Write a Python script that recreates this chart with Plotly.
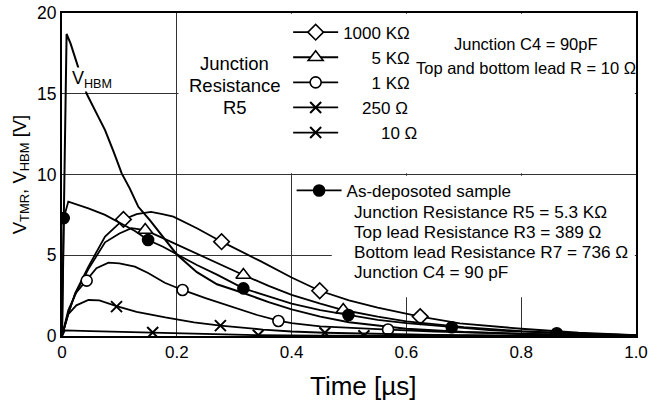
import plotly.graph_objects as go

# ---------------- data ----------------
hbm_t = [0, 0.004, 0.008, 0.015, 0.028, 0.043, 0.06, 0.075, 0.09, 0.104, 0.118, 0.133,
         0.153, 0.176, 0.2, 0.235, 0.27, 0.316, 0.36, 0.4, 0.45, 0.5, 0.6, 0.7, 0.8, 0.9, 1.0]
hbm_v = [0, 10, 18.7, 18.1, 16.7, 15.0, 13.8, 12.75, 11.4, 10.07, 9.14, 8.0,
         7.18, 6.15, 5.05, 3.95, 3.2, 2.66, 2.1, 1.65, 1.2, 0.85, 0.45, 0.25, 0.13, 0.07, 0.04]

r1000_t = [0, 0.01, 0.023, 0.046, 0.075, 0.107, 0.13, 0.155, 0.175, 0.194, 0.235, 0.278,
           0.345, 0.4, 0.449, 0.5, 0.55, 0.6, 0.624, 0.693, 0.8, 0.9, 1.0]
r1000_v = [0, 1.3, 2.65, 4.3, 6.15, 7.22, 7.55, 7.68, 7.55, 7.39, 6.67, 5.84,
           4.65, 3.62, 2.8, 2.2, 1.75, 1.38, 1.2, 0.78, 0.45, 0.2, 0.05]
r1000_mt = [0.107, 0.278, 0.449, 0.624]
r1000_mv = [7.22, 5.84, 2.8, 1.2]

r5k_t = [0, 0.01, 0.023, 0.046, 0.075, 0.1, 0.121, 0.145, 0.17, 0.2, 0.235, 0.27,
         0.316, 0.36, 0.4, 0.45, 0.49, 0.55, 0.6, 0.7, 0.8, 0.9, 1.0]
r5k_v = [0, 1.3, 2.6, 4.15, 5.8, 6.35, 6.68, 6.56, 6.15, 5.66, 5.1, 4.52,
         3.78, 3.1, 2.55, 2.0, 1.61, 1.2, 0.9, 0.55, 0.3, 0.15, 0.05]
r5k_mt = [0.145, 0.316, 0.49]
r5k_mv = [6.56, 3.78, 1.61]

asdep_t = [0, 0.003, 0.011, 0.046, 0.075, 0.104, 0.127, 0.15, 0.176, 0.2, 0.235, 0.27,
           0.316, 0.36, 0.4, 0.45, 0.499, 0.55, 0.6, 0.679, 0.75, 0.8, 0.862, 0.93, 1.0]
asdep_v = [0, 7.3, 8.32, 7.9, 7.5, 6.97, 6.5, 5.94, 5.53, 5.06, 4.4, 3.8,
           2.95, 2.45, 2.0, 1.6, 1.3, 1.0, 0.8, 0.54, 0.35, 0.27, 0.17, 0.1, 0.06]
asdep_mt = [0.003, 0.15, 0.316, 0.499, 0.679, 0.862]
asdep_mv = [7.3, 5.94, 2.95, 1.3, 0.54, 0.17]

r1k_t = [0, 0.011, 0.025, 0.043, 0.06, 0.081, 0.1, 0.127, 0.15, 0.179, 0.21, 0.25,
         0.3, 0.34, 0.377, 0.4, 0.45, 0.5, 0.568, 0.65, 0.75, 0.85, 1.0]
r1k_v = [0, 1.6, 2.7, 3.45, 4.2, 4.54, 4.5, 4.29, 3.9, 3.3, 2.85, 2.35,
         1.75, 1.3, 0.95, 0.8, 0.6, 0.5, 0.4, 0.28, 0.17, 0.1, 0.04]
r1k_mt = [0.043, 0.21, 0.377, 0.568]
r1k_mv = [3.43, 2.85, 0.93, 0.4]

r250_t = [0, 0.011, 0.025, 0.046, 0.065, 0.095, 0.13, 0.18, 0.23, 0.276, 0.35, 0.4,
          0.458, 0.55, 0.65, 0.8, 1.0]
r250_v = [0, 1.35, 1.9, 2.23, 2.2, 1.85, 1.5, 1.15, 0.85, 0.64, 0.4, 0.28,
          0.2, 0.12, 0.07, 0.03, 0.01]
r250_mt = [0.095, 0.276, 0.458]
r250_mv = [1.82, 0.64, 0.2]

r10_t = [0, 0.005, 0.05, 0.1, 0.158, 0.25, 0.342, 0.45, 0.6, 1.0]
r10_v = [0, 0.35, 0.3, 0.26, 0.22, 0.12, 0.05, 0.02, 0.01, 0]
r10_mt = [0.158, 0.342, 0.526]
r10_mv = [0.22, 0.05, 0.015]

x_ticks = [0, 0.2, 0.4, 0.6, 0.8, 1.0]
x_ticktext = ["0", "0.2", "0.4", "0.6", "0.8", "1.0"]
y_ticks = [0, 5, 10, 15, 20]

info_lines = ["Junction Resistance R5 = 5.3 KΩ", "Top lead Resistance R3 = 389 Ω",
              "Bottom lead Resistance R7 = 736 Ω", "Junction C4 = 90 pF"]
info_y = [7.68, 6.44, 5.2, 3.96]
jr_lines = ["Junction", "Resistance", "R5"]
jr_y = [16.9, 15.54, 14.12]

NB = "\u00a0"
series = [
    ("1000 KΩ", r1000_t, r1000_v, r1000_mt, r1000_mv, "diamond", 12, "white", "legend"),
    (NB * 6 + "5 KΩ", r5k_t, r5k_v, r5k_mt, r5k_mv, "triangle-up", 13, "white", "legend"),
    (NB * 6 + "1 KΩ", r1k_t, r1k_v, r1k_mt, r1k_mv, "circle", 11, "white", "legend"),
    (NB * 4 + "250 Ω", r250_t, r250_v, r250_mt, r250_mv, "x-thin", 11, "black", "legend"),
    (NB * 8 + "10 Ω", r10_t, r10_v, r10_mt, r10_mv, "x-thin", 11, "black", "legend"),
    ("As-deposoted sample", asdep_t, asdep_v, asdep_mt, asdep_mv, "circle", 11, "black", "legend2"),
]

FONT = "Liberation Sans, Arial, sans-serif"
fig = go.Figure()

# HBM curve
fig.add_trace(go.Scatter(x=hbm_t, y=hbm_v, mode="lines",
                         line=dict(color="black", width=2), showlegend=False))

for name, t, v, mt, mv, sym, size, fill, leg in series:
    fig.add_trace(go.Scatter(x=t, y=v, mode="lines",
                             line=dict(color="black", width=1.8), showlegend=False))
    mline = dict(color="black", width=1.6 if sym != "x-thin" else 2)
    fig.add_trace(go.Scatter(x=mt, y=mv, mode="markers", showlegend=False,
                             marker=dict(symbol=sym, size=size, color=fill, line=mline)))
    fig.add_trace(go.Scatter(x=[None], y=[None], mode="lines+markers", name=name,
                             legend=leg,
                             line=dict(color="black", width=1.8),
                             marker=dict(symbol=sym, size=size, color=fill, line=mline)))

# white boxes hiding grid behind the two text/legend blocks
fig.add_shape(type="rect", xref="x", yref="y", x0=0.203, x1=0.998, y0=10.08, y1=19.95,
              fillcolor="white", line=dict(width=0), layer="between")
fig.add_shape(type="rect", xref="x", yref="y", x0=0.47, x1=0.998, y0=2.4, y1=9.92,
              fillcolor="white", line=dict(width=0), layer="between")

for txt, yy in zip(jr_lines, jr_y):
    fig.add_annotation(x=0.301, y=yy, xref="x", yref="y", showarrow=False, text=txt,
                       font=dict(size=18.5, color="black", family=FONT))
fig.add_annotation(x=0.808, y=18.1, xref="x", yref="y", showarrow=False,
                   text="Junction C4 = 90pF", font=dict(size=16.5, color="black", family=FONT))
fig.add_annotation(x=0.808, y=16.6, xref="x", yref="y", showarrow=False,
                   text="Top and bottom lead R = 10 Ω", font=dict(size=16.5, color="black", family=FONT))
for txt, yy in zip(info_lines, info_y):
    fig.add_annotation(x=0.505, y=yy, xref="x", yref="y", showarrow=False, xanchor="left",
                       text=txt, font=dict(size=17.2, color="black", family=FONT))
fig.add_annotation(x=0.052, y=15.9, xref="x", yref="y", showarrow=False,
                   text="V<sub>HBM</sub>", bgcolor="white", borderpad=0,
                   font=dict(size=18, color="black", family=FONT))
# x-axis title (sits a little right of centre in the reference)
fig.add_annotation(x=0.524, y=-0.155, xref="paper", yref="paper", showarrow=False,
                   xanchor="center", yanchor="middle",
                   text="Time [µs]", font=dict(size=26, color="black", family=FONT))

fig.update_layout(
    width=662, height=403,
    margin=dict(l=62, r=26, t=13, b=67),
    paper_bgcolor="white", plot_bgcolor="white",
    font=dict(family=FONT, color="black", size=16),
    legend=dict(x=0.394, y=0.995, xanchor="left", yanchor="top",
                bgcolor="rgba(0,0,0,0)", font=dict(size=17, family=FONT),
                itemwidth=45),
    legend2=dict(x=0.40, y=0.505, xanchor="left", yanchor="top",
                 bgcolor="rgba(0,0,0,0)", font=dict(size=17, family=FONT),
                 itemwidth=45),
    xaxis=dict(range=[0, 1], tickvals=x_ticks, ticktext=x_ticktext, automargin=False,
               showgrid=True, gridcolor="#333", gridwidth=1,
               showline=True, linecolor="black", linewidth=1.5, mirror=True,
               ticks="", zeroline=False, tickfont=dict(size=17),
               ticklabeloverflow="allow"),
    yaxis=dict(range=[0, 20], tickvals=y_ticks, automargin=False,
               showgrid=True, gridcolor="#333", gridwidth=1,
               showline=True, linecolor="black", linewidth=2, mirror=True,
               ticks="", zeroline=False, tickfont=dict(size=17.5),
               ticklabeloverflow="allow",
               title=dict(text="V<sub>TMR</sub>, V<sub>HBM</sub> [V]", font=dict(size=18.5), standoff=6)),
)

# remove the default 8px page margin so the figure fills the window exactly
fig.write_html("out.html", config={"displayModeBar": False},
               post_script="document.body.style.margin='0';document.body.style.overflow='hidden';")
